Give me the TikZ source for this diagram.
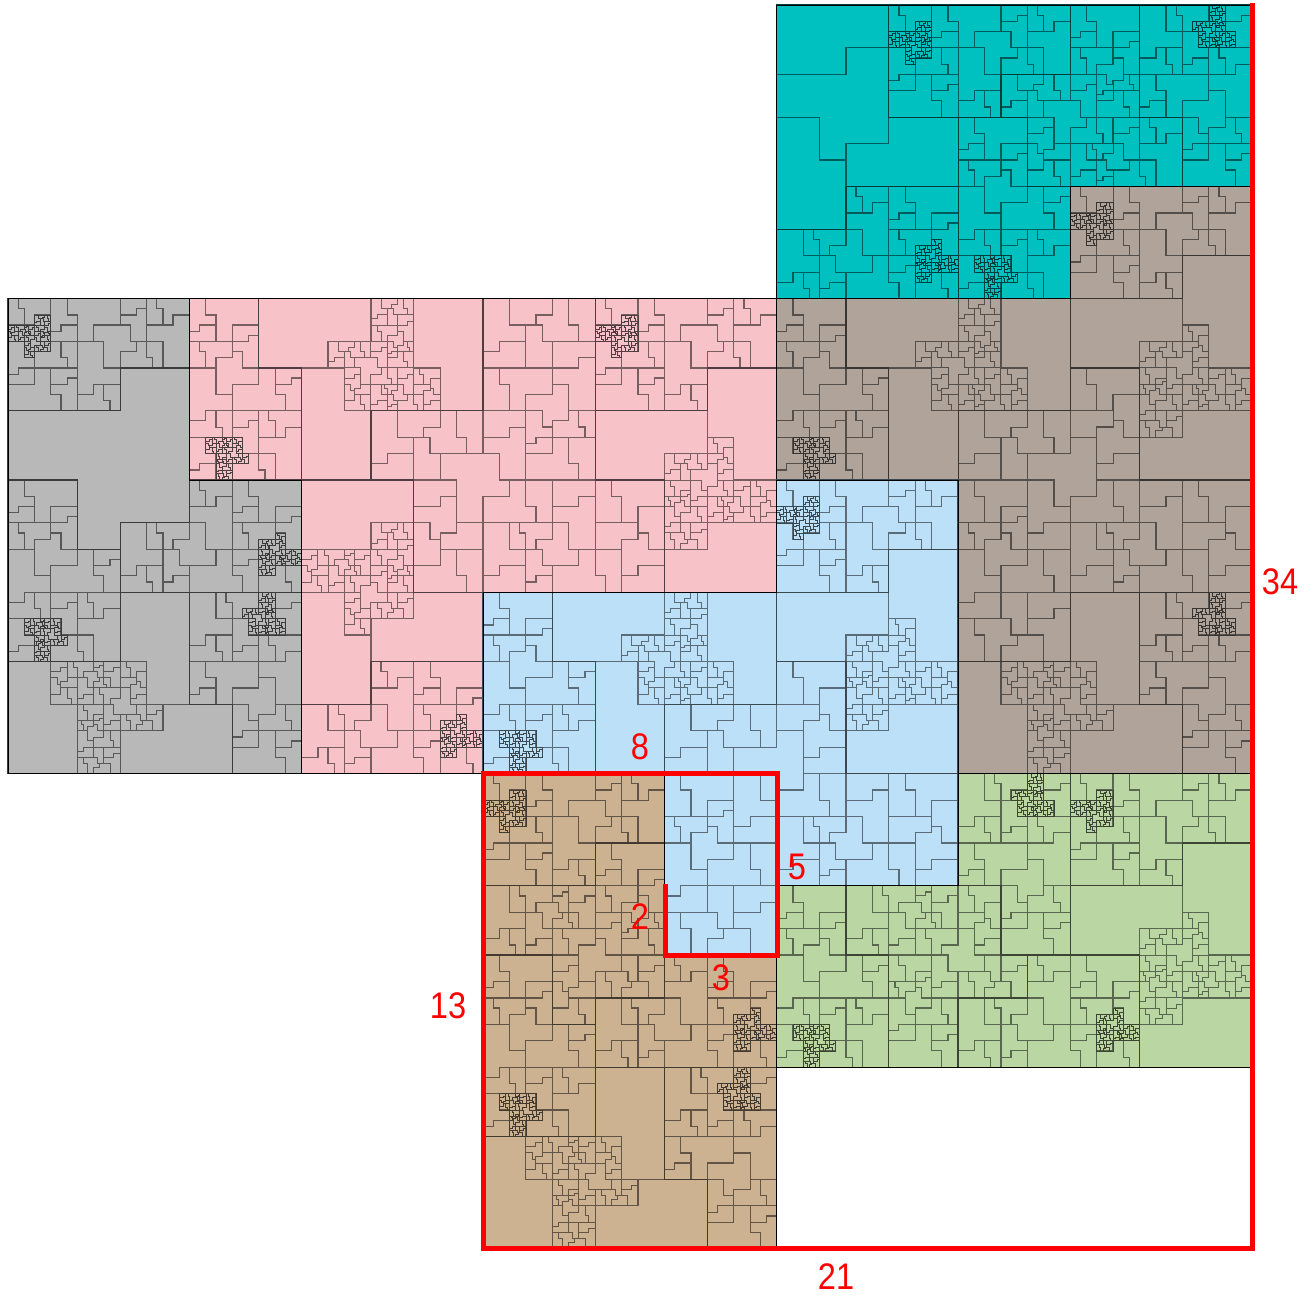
\documentclass[tikz,border=0pt]{standalone}
\usepackage{fontspec}
\setmainfont[FakeStretch=0.88]{Liberation Sans}
\newdimen\Ma \newdimen\Mb \newdimen\Mc \newdimen\Md \newdimen\Me \newdimen\Mf
\newdimen\Ta \newdimen\Tb \newdimen\Tc \newdimen\Td \newdimen\Te \newdimen\Tf
\def\kid#1#2#3#4#5#6#7{\begingroup
 \Ta=\dimexpr #1\Ma+#2\Mc\relax
 \Tb=\dimexpr #1\Mb+#2\Md\relax
 \Tc=\dimexpr #3\Ma+#4\Mc\relax
 \Td=\dimexpr #3\Mb+#4\Md\relax
 \Te=\dimexpr #5\Ma+#6\Mc+\Me\relax
 \Tf=\dimexpr #5\Mb+#6\Md+\Mf\relax
 \Ma=\Ta \Mb=\Tb \Mc=\Tc \Md=\Td \Me=\Te \Mf=\Tf
 #7\endgroup}
\def\Pt#1#2{\pgfqpoint{\dimexpr #1\Ma+#2\Mc+\Me\relax}{\dimexpr #1\Mb+#2\Md+\Mf\relax}}
\def\polyL{\pgfpathmoveto{\Pt{0}{0}}\pgfpathlineto{\Pt{1}{0}}\pgfpathlineto{\Pt{1}{1}}\pgfpathlineto{\Pt{1.61803}{1}}\pgfpathlineto{\Pt{1.61803}{2.61803}}\pgfpathlineto{\Pt{0}{2.61803}}\pgfpathclose}
\def\polyB{\pgfpathmoveto{\Pt{0}{0}}\pgfpathlineto{\Pt{1}{0}}\pgfpathlineto{\Pt{1}{1}}\pgfpathlineto{\Pt{1.61803}{1}}\pgfpathlineto{\Pt{1.61803}{1.61803}}\pgfpathlineto{\Pt{0.61803}{1.61803}}\pgfpathlineto{\Pt{0.61803}{2}}\pgfpathlineto{\Pt{0}{2}}\pgfpathclose}
\def\polyZ{\pgfpathmoveto{\Pt{0}{0.23607}}\pgfpathlineto{\Pt{0.61803}{0.23607}}\pgfpathlineto{\Pt{0.61803}{0}}\pgfpathlineto{\Pt{1}{0}}\pgfpathlineto{\Pt{1}{0.8541}}\pgfpathlineto{\Pt{0.61803}{0.8541}}\pgfpathlineto{\Pt{0.61803}{1}}\pgfpathlineto{\Pt{0.38197}{1}}\pgfpathlineto{\Pt{0.38197}{0.61803}}\pgfpathlineto{\Pt{0}{0.61803}}\pgfpathclose}
\def\sL{\polyL\pgfusepath{stroke}}
\def\sB{\polyB\pgfusepath{stroke}}
\def\sZ{\polyZ\pgfusepath{stroke}}
% child maps
\def\kLB#1{\kid{1}{0}{0}{1}{0}{0}{#1}}
\def\kLL#1{\kid{0}{-0.61803}{0.61803}{0}{0}{2.61803}{#1}}
\def\kBa#1{\kid{0}{0.38197}{-0.38197}{0}{1}{0}{#1}}
\def\kBb#1{\kid{0}{-0.38197}{0.38197}{0}{0.61803}{1.61803}{#1}}
\def\kBc#1{\kid{0.38197}{0}{0}{0.38197}{0}{1}{#1}}
\def\kBz#1{\kid{1}{0}{0}{1}{0}{0.38197}{#1}}
\def\kZa#1{\kid{0}{0.23607}{-0.23607}{0}{0.61803}{0.23607}{#1}}
\def\kZb#1{\kid{-0.23607}{0}{0}{-0.23607}{1}{0.61803}{#1}}
\def\kZc#1{\kid{0.1459}{0}{0}{0.1459}{0}{0.23607}{#1}}
\def\kZd#1{\kid{0}{0.1459}{-0.1459}{0}{1}{0}{#1}}
\def\kZz#1{\kid{-0.61803}{0}{0}{-0.61803}{1}{1}{#1}}
% uniform depth recursion
\def\uL#1{\sL\ifnum#1>0 \kLB{\uB{\numexpr#1-1\relax}}\kLL{\uL{\numexpr#1-1\relax}}\fi}
\def\uB#1{\sB\ifnum#1>0 \kBa{\uL{\numexpr#1-1\relax}}\kBb{\uL{\numexpr#1-1\relax}}\kBc{\uL{\numexpr#1-1\relax}}\kBz{\uZ{\numexpr#1-1\relax}}\fi}
\def\uZ#1{\sZ\ifnum#1>0 \kZa{\uB{\numexpr#1-1\relax}}\kZb{\uB{\numexpr#1-1\relax}}\kZc{\uL{\numexpr#1-1\relax}}\kZd{\uL{\numexpr#1-1\relax}}\kZz{\uZ{\numexpr#1-1\relax}}\fi}
% named levels
\def\Lq{\sL\kLB{\sB}\kLL{\uL{1}}}
\def\Zclump{\begin{pgfscope}\pgfsetstrokecolor{tilecol!32!black}\pgfsetlinewidth{0.75pt}\uZ{3}\end{pgfscope}}
\def\Zdeep{\begin{pgfscope}\pgfsetlinewidth{1pt}\uZ{3}\end{pgfscope}}
\def\BFF{\sB\kBa{\uL{1}}\kBb{\uL{1}}\kBc{\uL{1}}\kBz{\Zclump}}
\def\LD{\sL\kLB{\BFF}\kLL{\Lq}}
\def\BS{\sB\kBa{\Lq}\kBb{\Lq}\kBc{\Lq}\kBz{\uZ{1}}}
\def\LC{\sL\kLB{\BS}\kLL{\LD}}
\def\ZB{\Zdeep}
\def\BF{\sB\kBa{\sL}\kBb{\sL}\kBc{\sL}\kBz{\ZB}}
\def\LB{\sL\kLB{\BF}\kLL{\LC}}
\def\ZA{\sZ\kZa{\uB{2}}\kZb{\uB{2}}\kZc{\Lq}\kZd{\Lq}\kZz{\uZ{2}}}
\def\BA{\sB\kBa{\LC}\kBb{\LC}\kBc{\LC}\kBz{\ZA}}
\def\LA{\sL\kLB{\BA}\kLL{\LB}}
\def\ZC{\sZ\kZa{\uB{2}}\kZb{\uB{2}}\kZc{\uL{2}}\kZd{\uL{2}}\kZz{\uZ{2}}}
\def\BP{\sB\kBa{\LB}\kBb{\LB}\kBc{\LB}\kBz{\ZC}}
\def\ZP{\sZ\kZa{\BF}\kZb{\BF}\kZc{\LC}\kZd{\LC}\kZz{\ZC}}
% main (darker) lines: the first levels again
\def\mM{\kLB{\sB}\kLL{\sL}}
\def\mLA{\kLB{\sB\kBa{\sL}\kBb{\sL}\kBc{\sL}\kBz{\sZ}}\kLL{\mM}}
\def\mBP{\kBa{\mM}\kBb{\mM}\kBc{\mM}\kBz{\sZ}}
\def\mZP{\kZa{\sB}\kZb{\sB}\kZc{\sL}\kZd{\sL}\kZz{\sZ}}
\def\root#1#2#3#4#5#6{\Ma=#1pt \Mb=#2pt \Mc=#3pt \Md=#4pt \Me=#5pt \Mf=#6pt }
\def\tile#1#2#3#4{\begin{pgfscope}\colorlet{tilecol}{#1}\pgfsetfillcolor{#1}\csname poly#2\endcsname\pgfusepath{fill}
 \pgfsetstrokecolor{#1!48!black}\pgfsetlinewidth{1.2pt}\pgfsetmiterjoin #3%
 \pgfsetstrokecolor{#1!32!black}\pgfsetlinewidth{1.2pt}#4\end{pgfscope}
 \begin{pgfscope}\pgfsetstrokecolor{black}\pgfsetlinewidth{1pt}\csname poly#2\endcsname\pgfusepath{stroke}\end{pgfscope}}
\definecolor{cgray}{HTML}{B8B8B8}
\definecolor{cpink}{HTML}{F7C3C8}
\definecolor{cblue}{HTML}{BCE0F7}
\definecolor{ctan}{HTML}{CDB292}
\definecolor{cdark}{HTML}{B0A49A}
\definecolor{cgreen}{HTML}{BAD6A3}
\definecolor{cteal}{HTML}{00C0C0}
\begin{document}
\begin{tikzpicture}[numlab/.style={text=red,font=\fontsize{37}{37}\selectfont,inner sep=0pt}]
\useasboundingbox (0pt,0pt) rectangle (1316pt,-1296pt);
\fill[white] (0pt,0pt) rectangle (1316pt,-1296pt);
% gray
\begingroup\root{181.45}{0}{0}{-181.45}{8}{-298.59}\def\ZA{\sZ}\tile{cgray}{L}{\LA}{\mLA}\endgroup
% tan
\begingroup\root{181.45}{0}{0}{-181.45}{483.04}{-773.63}\tile{ctan}{L}{\LA}{\mLA}\endgroup
% teal
\begingroup\root{0}{-181.45}{-181.45}{0}{1251.7}{-5}\def\ZB{\sZ}\tile{cteal}{L}{\LA}{\mLA}\endgroup
% green
\begingroup\root{0}{181.45}{181.45}{0}{776.63}{-1067.22}\tile{cgreen}{L}{\LA}{\mLA}\endgroup
% pink
\begingroup\root{0}{-293.59}{-293.59}{0}{776.63}{-298.59}\tile{cpink}{B}{\BP}{\mBP}\endgroup
% dark
\begingroup\root{-293.59}{0}{0}{293.59}{1251.7}{-773.63}\tile{cdark}{B}{\BP}{\mBP}\endgroup
% blue
\begingroup\root{475.04}{0}{0}{-475.04}{483.04}{-480.04}\tile{cblue}{Z}{\ZP}{\mZP}\endgroup
\coordinate (s0) at (1252pt,-3pt);
\coordinate (s1) at (1252pt,-1248.6pt);
\coordinate (s2) at (483.5pt,-1248.6pt);
\coordinate (s3) at (483.5pt,-773.6pt);
\coordinate (s4) at (777pt,-773.6pt);
\coordinate (s5) at (777pt,-955pt);
\coordinate (s6) at (665pt,-955pt);
\coordinate (s7) at (665pt,-884pt);
\draw[red,line width=5pt,line join=miter] (s0)--(s1)--(s2)--(s3)--(s4)--(s5)--(s6)--(s7);
\node[numlab] (n34) at (1280pt,-582pt) {34};
\node[numlab] (n21) at (836pt,-1277pt) {21};
\node[numlab] (n13) at (448pt,-1006pt) {13};
\node[numlab] (n8) at (640pt,-747pt) {8};
\node[numlab] (n5) at (797pt,-867pt) {5};
\node[numlab] (n3) at (721pt,-978pt) {3};
\node[numlab] (n2) at (640pt,-917pt) {2};
\end{tikzpicture}
\end{document}
